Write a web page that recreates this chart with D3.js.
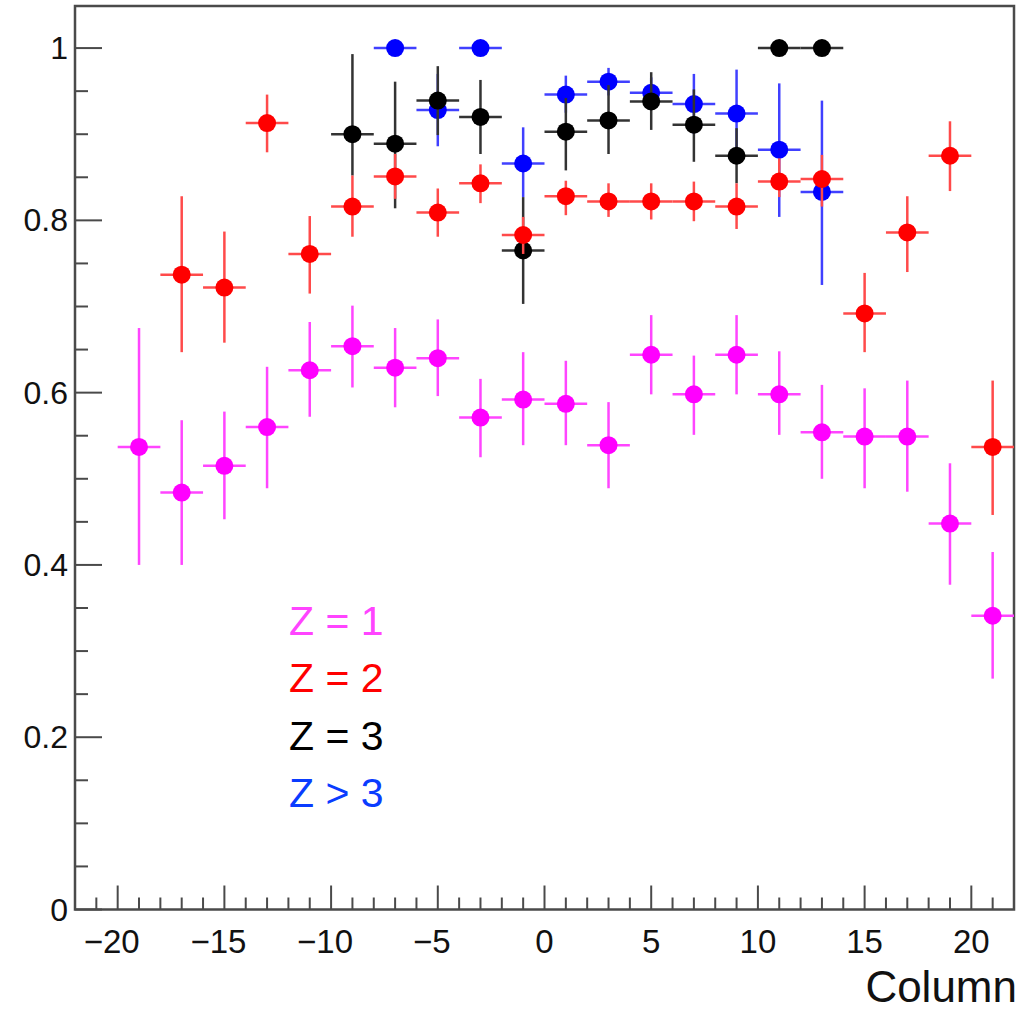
<!DOCTYPE html>
<html>
  <head>
    <meta http-equiv="Content-type" content="text/html; charset=utf-8">
    <title>Efficiency vs Column</title>
    <script src="https://d3js.org/d3.v7.min.js"></script>
    <style>
      body { margin: 0; background: #fff; }
      text { font-family: "Liberation Sans", Arial, sans-serif; }
    </style>
  </head>
  <body>
    <div id="chart"></div>
    <script type="text/javascript">
      // bin centres (bin width 2)
      var columns = [-19, -17, -15, -13, -11, -9, -7, -5, -3, -1, 1, 3, 5, 7, 9, 11, 13, 15, 17, 19, 21];

      // Z = 1
      var z1Cols = columns;
      var z1Val = [0.537, 0.484, 0.515, 0.560, 0.626, 0.654, 0.629, 0.640, 0.571, 0.592, 0.587, 0.539, 0.644, 0.598, 0.644, 0.598, 0.554, 0.549, 0.549, 0.448, 0.341];
      var z1Lo  = [0.400, 0.400, 0.453, 0.489, 0.572, 0.606, 0.583, 0.596, 0.525, 0.539, 0.539, 0.489, 0.598, 0.551, 0.598, 0.551, 0.500, 0.489, 0.485, 0.377, 0.268];
      var z1Hi  = [0.675, 0.568, 0.578, 0.630, 0.682, 0.701, 0.675, 0.685, 0.616, 0.647, 0.637, 0.589, 0.690, 0.643, 0.690, 0.648, 0.609, 0.605, 0.614, 0.518, 0.415];

      // Z = 2
      var z2Cols = [-17, -15, -13, -11, -9, -7, -5, -3, -1, 1, 3, 5, 7, 9, 11, 13, 15, 17, 19, 21];
      var z2Val = [0.737, 0.722, 0.913, 0.761, 0.816, 0.851, 0.809, 0.843, 0.783, 0.828, 0.822, 0.822, 0.822, 0.816, 0.845, 0.848, 0.692, 0.786, 0.875, 0.537];
      var z2Lo  = [0.647, 0.658, 0.879, 0.715, 0.781, 0.825, 0.781, 0.820, 0.761, 0.806, 0.804, 0.801, 0.799, 0.790, 0.827, 0.816, 0.647, 0.740, 0.834, 0.458];
      var z2Hi  = [0.828, 0.787, 0.946, 0.805, 0.852, 0.877, 0.837, 0.865, 0.804, 0.846, 0.843, 0.843, 0.845, 0.843, 0.872, 0.876, 0.739, 0.828, 0.915, 0.614];

      // Z = 3
      var z3Cols = [-9, -7, -5, -3, -1, 1, 3, 5, 7, 9, 11, 13];
      var z3Val = [0.900, 0.889, 0.939, 0.920, 0.765, 0.903, 0.916, 0.938, 0.911, 0.875, 1.0, 1.0];
      var z3Lo  = [0.852, 0.814, 0.899, 0.877, 0.703, 0.858, 0.877, 0.905, 0.868, 0.843, 1.0, 1.0];
      var z3Hi  = [0.993, 0.961, 0.979, 0.963, 0.827, 0.942, 0.957, 0.972, 0.952, 0.907, 1.0, 1.0];

      // Z > 3
      var z4Cols = [-7, -5, -3, -1, 1, 3, 5, 7, 9, 11, 13];
      var z4Val = [1.0, 0.928, 1.0, 0.866, 0.946, 0.961, 0.948, 0.935, 0.924, 0.882, 0.833];
      var z4Lo  = [1.0, 0.886, 1.0, 0.827, 0.925, 0.945, 0.930, 0.900, 0.873, 0.804, 0.725];
      var z4Hi  = [1.0, 0.970, 1.0, 0.908, 0.968, 0.977, 0.966, 0.970, 0.975, 0.959, 0.939];

      var yTickLabels = ['0', '0.2', '0.4', '0.6', '0.8', '1'];

      (function(d3) {
        'use strict';

        var width = 1025, height = 1010;
        var mLeft = 75, mRight = 1014, mTop = 5, mBottom = 909.5;
        var halfBin = 1;

        var x = d3.scaleLinear().domain([-22, 22]).range([mLeft, mRight]);
        var y = d3.scaleLinear().domain([0, 1.05]).range([mBottom, mTop]);

        var svg = d3.select('#chart').append('svg')
          .attr('width', width)
          .attr('height', height);

        // ticks (inward)
        var axisColor = '#4a4a4a';
        var xMinor = d3.range(-22, 23, 1);
        svg.append('g').selectAll('line').data(xMinor).enter().append('line')
          .attr('x1', function(d) { return x(d); })
          .attr('x2', function(d) { return x(d); })
          .attr('y1', mBottom)
          .attr('y2', function(d) { return d % 5 === 0 ? mBottom - 24 : mBottom - 12; })
          .attr('stroke', axisColor).attr('stroke-width', 2);

        var yMinor = d3.range(0, 21).map(function(i) { return i * 0.05; });
        svg.append('g').selectAll('line').data(yMinor).enter().append('line')
          .attr('y1', function(d) { return y(d); })
          .attr('y2', function(d) { return y(d); })
          .attr('x1', mLeft)
          .attr('x2', function(d, i) { return i % 4 === 0 ? mLeft + 27 : mLeft + 13; })
          .attr('stroke', axisColor).attr('stroke-width', 2);

        // frame
        svg.append('rect')
          .attr('x', mLeft).attr('y', mTop + 1)
          .attr('width', mRight - mLeft).attr('height', mBottom - mTop - 1)
          .attr('fill', 'none').attr('stroke', axisColor).attr('stroke-width', 2.5);

        // tick labels
        var xMajor = d3.range(-20, 21, 5);
        svg.append('g').selectAll('text').data(xMajor).enter().append('text')
          .attr('x', function(d) { return x(d) - (d < 0 ? 6 : 0); })
          .attr('y', 953)
          .attr('text-anchor', 'middle')
          .attr('font-size', 33)
          .attr('fill', '#111')
          .text(function(d) { return d < 0 ? '\u2212' + Math.abs(d) : d; });

        svg.append('g').selectAll('text').data(yTickLabels).enter().append('text')
          .attr('x', 68)
          .attr('y', function(d) { return y(+d) + 11; })
          .attr('text-anchor', 'end')
          .attr('font-size', 32)
          .attr('fill', '#111')
          .text(function(d) { return d; });

        svg.append('text')
          .attr('x', 1017).attr('y', 1002)
          .attr('text-anchor', 'end')
          .attr('font-size', 44)
          .attr('fill', '#111')
          .text('Column');

        function drawSeries(cols, val, lo, hi, color, barColor) {
          var data = cols.map(function(c, i) { return { c: c, v: val[i], lo: lo[i], hi: hi[i] }; });
          var g = svg.append('g');
          g.selectAll('line.h').data(data).enter().append('line')
            .attr('class', 'h')
            .attr('x1', function(d) { return x(d.c - halfBin); })
            .attr('x2', function(d) { return x(d.c + halfBin); })
            .attr('y1', function(d) { return y(d.v); })
            .attr('y2', function(d) { return y(d.v); })
            .attr('stroke', barColor).attr('stroke-width', 2.5);
          g.selectAll('line.v').data(data).enter().append('line')
            .attr('class', 'v')
            .attr('x1', function(d) { return x(d.c); })
            .attr('x2', function(d) { return x(d.c); })
            .attr('y1', function(d) { return y(d.lo); })
            .attr('y2', function(d) { return y(d.hi); })
            .attr('stroke', barColor).attr('stroke-width', 2.5);
          g.selectAll('circle').data(data).enter().append('circle')
            .attr('cx', function(d) { return x(d.c); })
            .attr('cy', function(d) { return y(d.v); })
            .attr('r', 9)
            .attr('fill', color);
        }

        drawSeries(z4Cols, z4Val, z4Lo, z4Hi, '#0000ff', '#4040ff');
        drawSeries(z3Cols, z3Val, z3Lo, z3Hi, '#000000', '#333333');
        drawSeries(z2Cols, z2Val, z2Lo, z2Hi, '#ff0000', '#ff4a4a');
        drawSeries(z1Cols, z1Val, z1Lo, z1Hi, '#ff00ff', '#ff45ff');

        // legend
        var legendLabels = ['Z = 1', 'Z = 2', 'Z = 3', 'Z > 3'];
        var legendColors = ['#ff44ff', '#ff0000', '#000000', '#0a3cff'];
        svg.append('g').selectAll('text').data(legendLabels).enter().append('text')
          .attr('x', 289)
          .attr('y', function(d, i) { return 635 + i * 57.4; })
          .attr('font-size', 41)
          .attr('fill', function(d, i) { return legendColors[i]; })
          .text(function(d) { return d; });
      })(window.d3);
    </script>
  </body>
</html>
